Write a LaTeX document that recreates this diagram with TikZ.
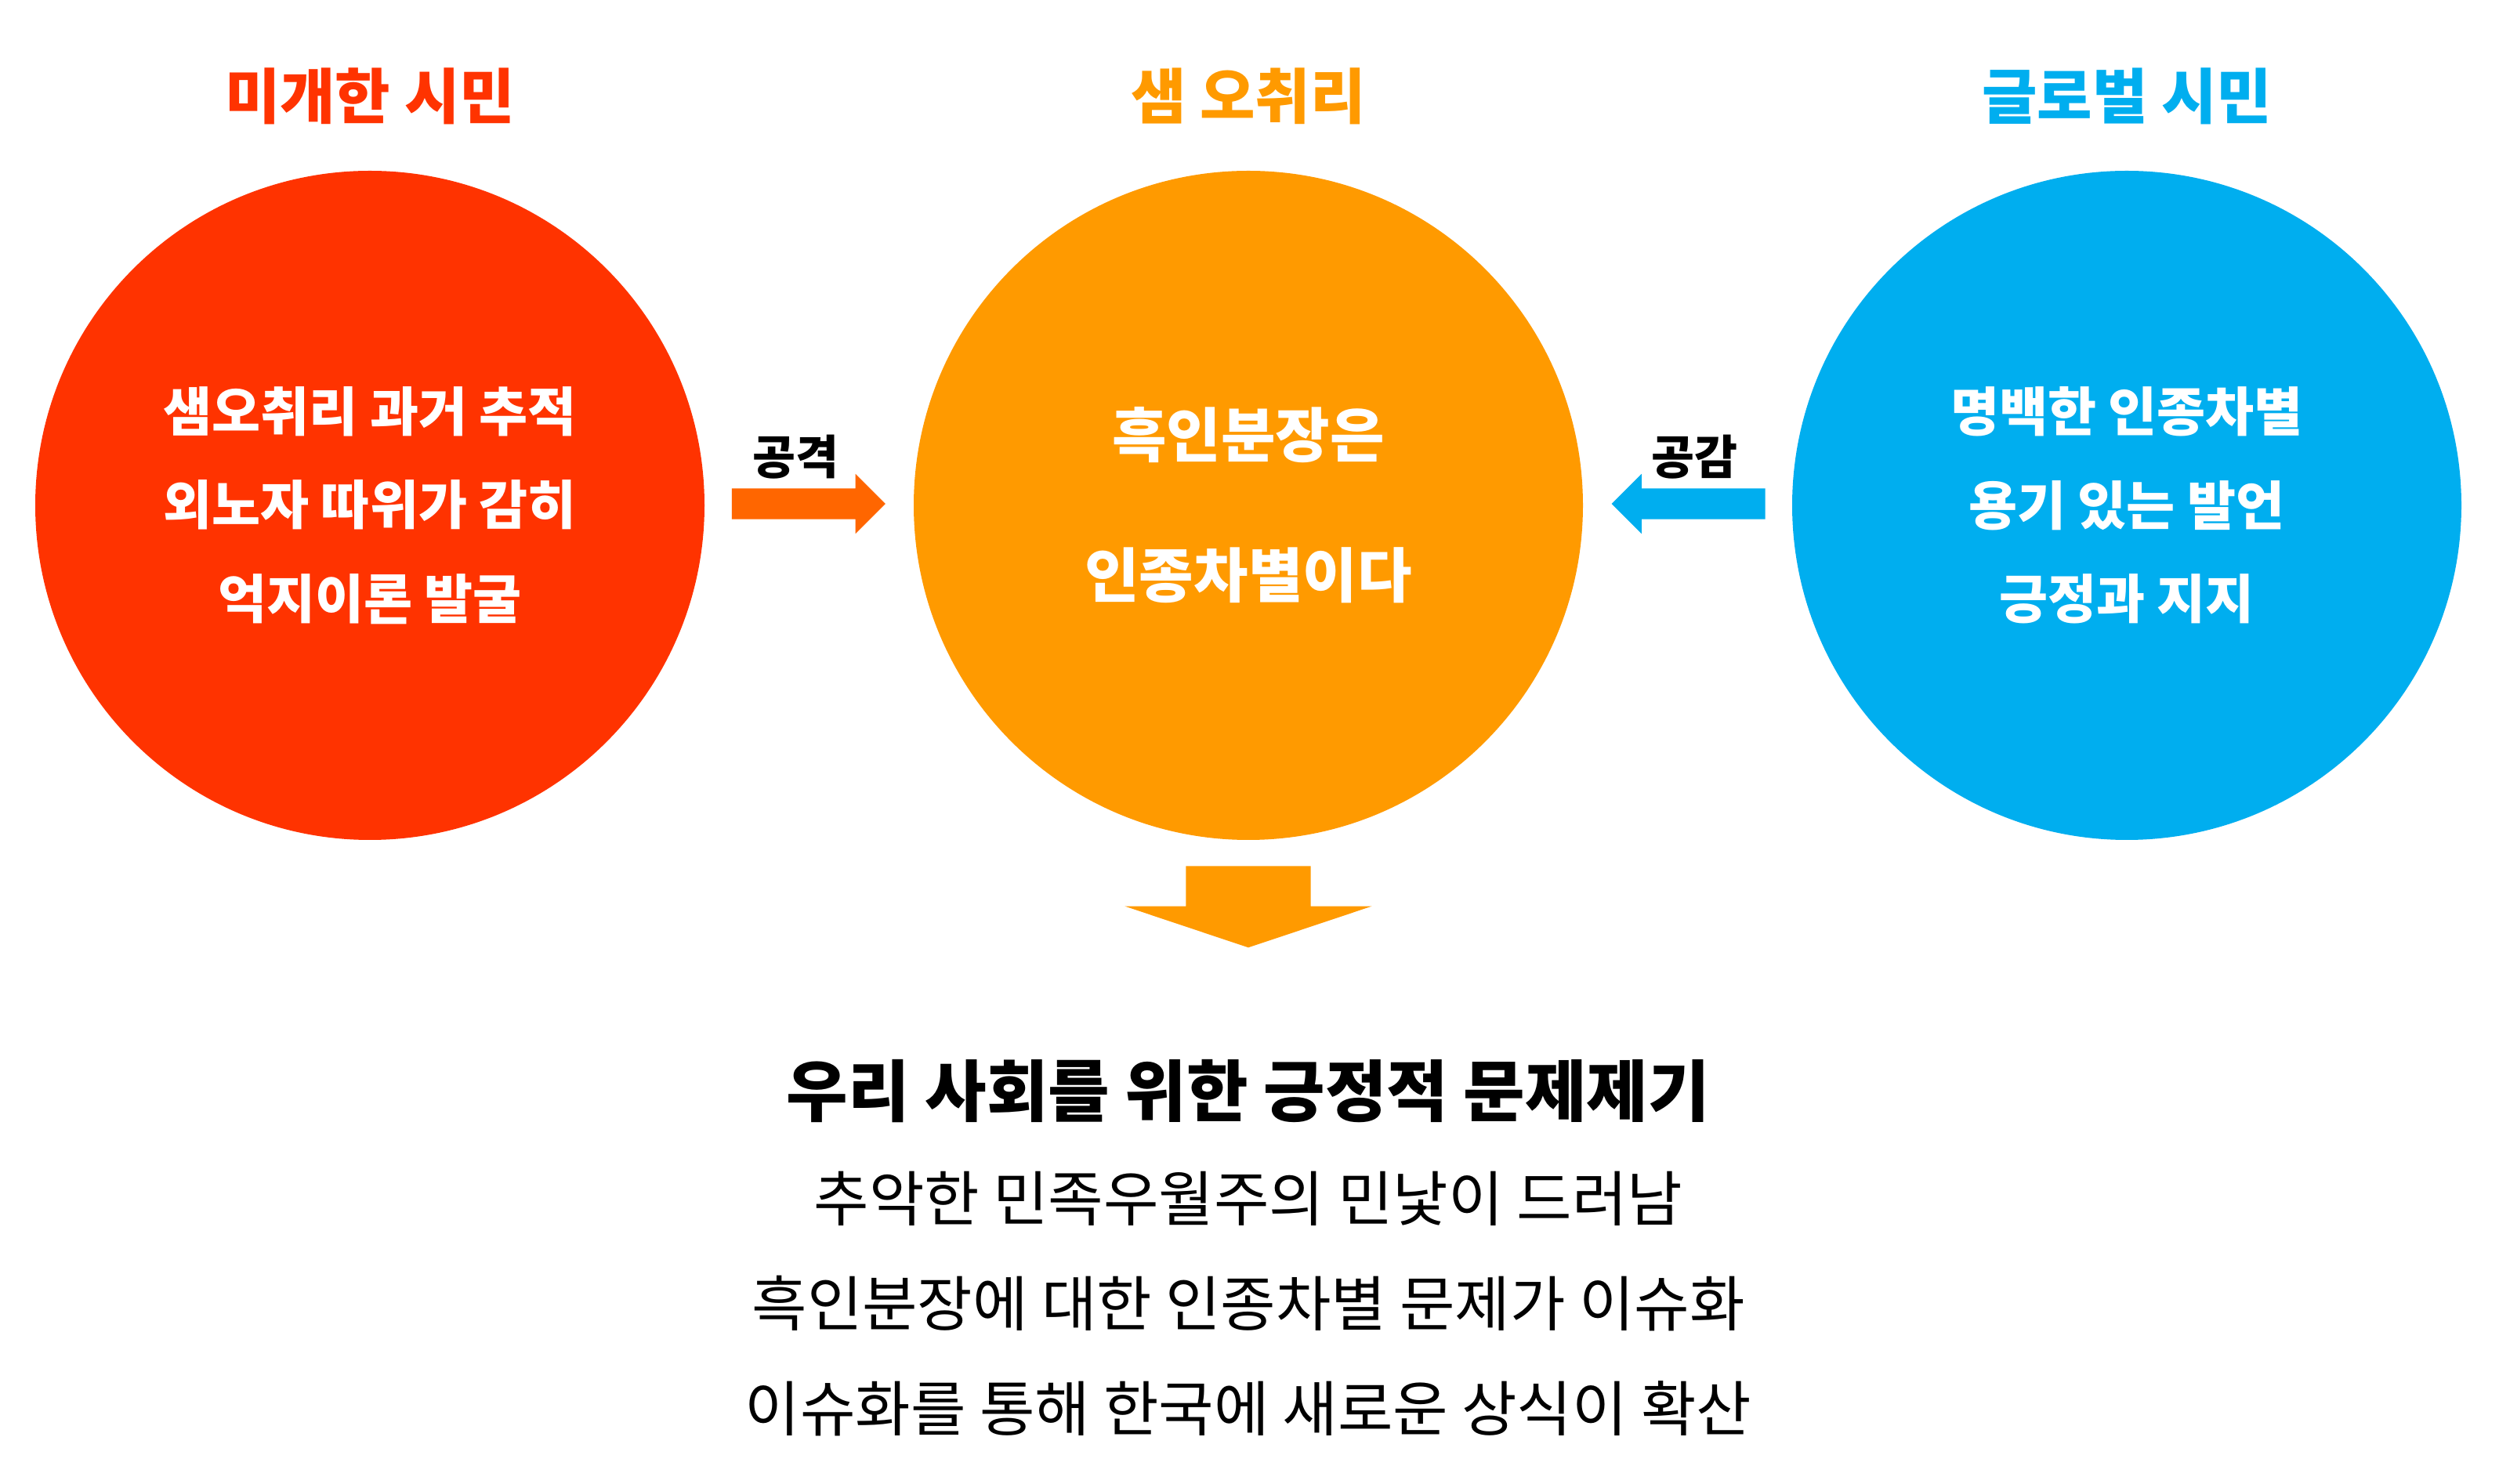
\documentclass[tikz,border=0pt]{standalone}
\usepackage{fontspec}
\setmainfont{Noto Sans CJK KR}
\usetikzlibrary{positioning,shapes.arrows}
\definecolor{rudeRed}{HTML}{FF3300}
\definecolor{samOrange}{HTML}{FF9A00}
\definecolor{globalBlue}{HTML}{00AEEF}
\definecolor{hitOrange}{HTML}{FF6600}
\tikzset{
    group/.style={circle, minimum size=8.54cm, inner sep=0mm, text=white, align=center, font=\fontsize{19.2}{34}\selectfont\bfseries},
    heading/.style={font=\fontsize{21.8}{26}\selectfont\bfseries},
    verb/.style={font=\fontsize{17}{20}\selectfont\bfseries},
    sideArrow/.style={single arrow, single arrow head extend=0.185cm, inner xsep=0mm, inner ysep=0.19cm, minimum height=1.96cm},
    downArrow/.style={single arrow, single arrow head extend=0.78cm, single arrow tip angle=143, inner xsep=0mm, inner ysep=0.79cm, minimum height=1.04cm, rotate=-90},
    result/.style={font=\fontsize{21.8}{26}\selectfont}
}
\begin{document}
\begin{tikzpicture}
    \fill[white] (0,0) rectangle (31.89,18.93);
    \useasboundingbox (0,0) rectangle (31.89,18.93);

    % three circles
    \node[group, fill=rudeRed] (rude) at (4.72,12.48) {샘오취리 과거 추적\\외노자 따위가 감히\\억지이론 발굴};
    \node[group, fill=samOrange, font=\fontsize{21.5}{51}\selectfont\bfseries] (sam) at (15.93,12.48) {흑인분장은\\인종차별이다};
    \node[group, fill=globalBlue] (glob) at (27.14,12.48) {명백한 인종차별\\용기 있는 발언\\긍정과 지지};

    \node[heading, text=rudeRed] (rudeT) at (4.72,17.70) {미개한 시민};
    \node[heading, text=samOrange] (samT) at (15.93,17.70) {샘 오취리};
    \node[heading, text=globalBlue] (globT) at (27.14,17.70) {글로벌 시민};

    % arrows
    \node[sideArrow, fill=hitOrange] (attack) at (10.22,12.50) {};
    \node[verb] (attackL) at (10.15,13.10) {공격};
    \node[sideArrow, fill=globalBlue, rotate=180] (agree) at (21.645,12.50) {};
    \node[verb] (agreeL) at (21.62,13.10) {공감};

    \node[downArrow, fill=samOrange] (down) at (15.93,7.49) {};

    % conclusion
    \node[result, font=\fontsize{24.3}{29}\selectfont\bfseries] (concl) at (15.93,5.00) {우리 사회를 위한 긍정적 문제제기};
    \node[result] (l1) at (15.93,3.63) {추악한 민족우월주의 민낯이 드러남};
    \node[result] (l2) at (15.93,2.29) {흑인분장에 대한 인종차별 문제가 이슈화};
    \node[result] (l3) at (15.93,0.95) {이슈화를 통해 한국에 새로운 상식이 확산};
\end{tikzpicture}
\end{document}
